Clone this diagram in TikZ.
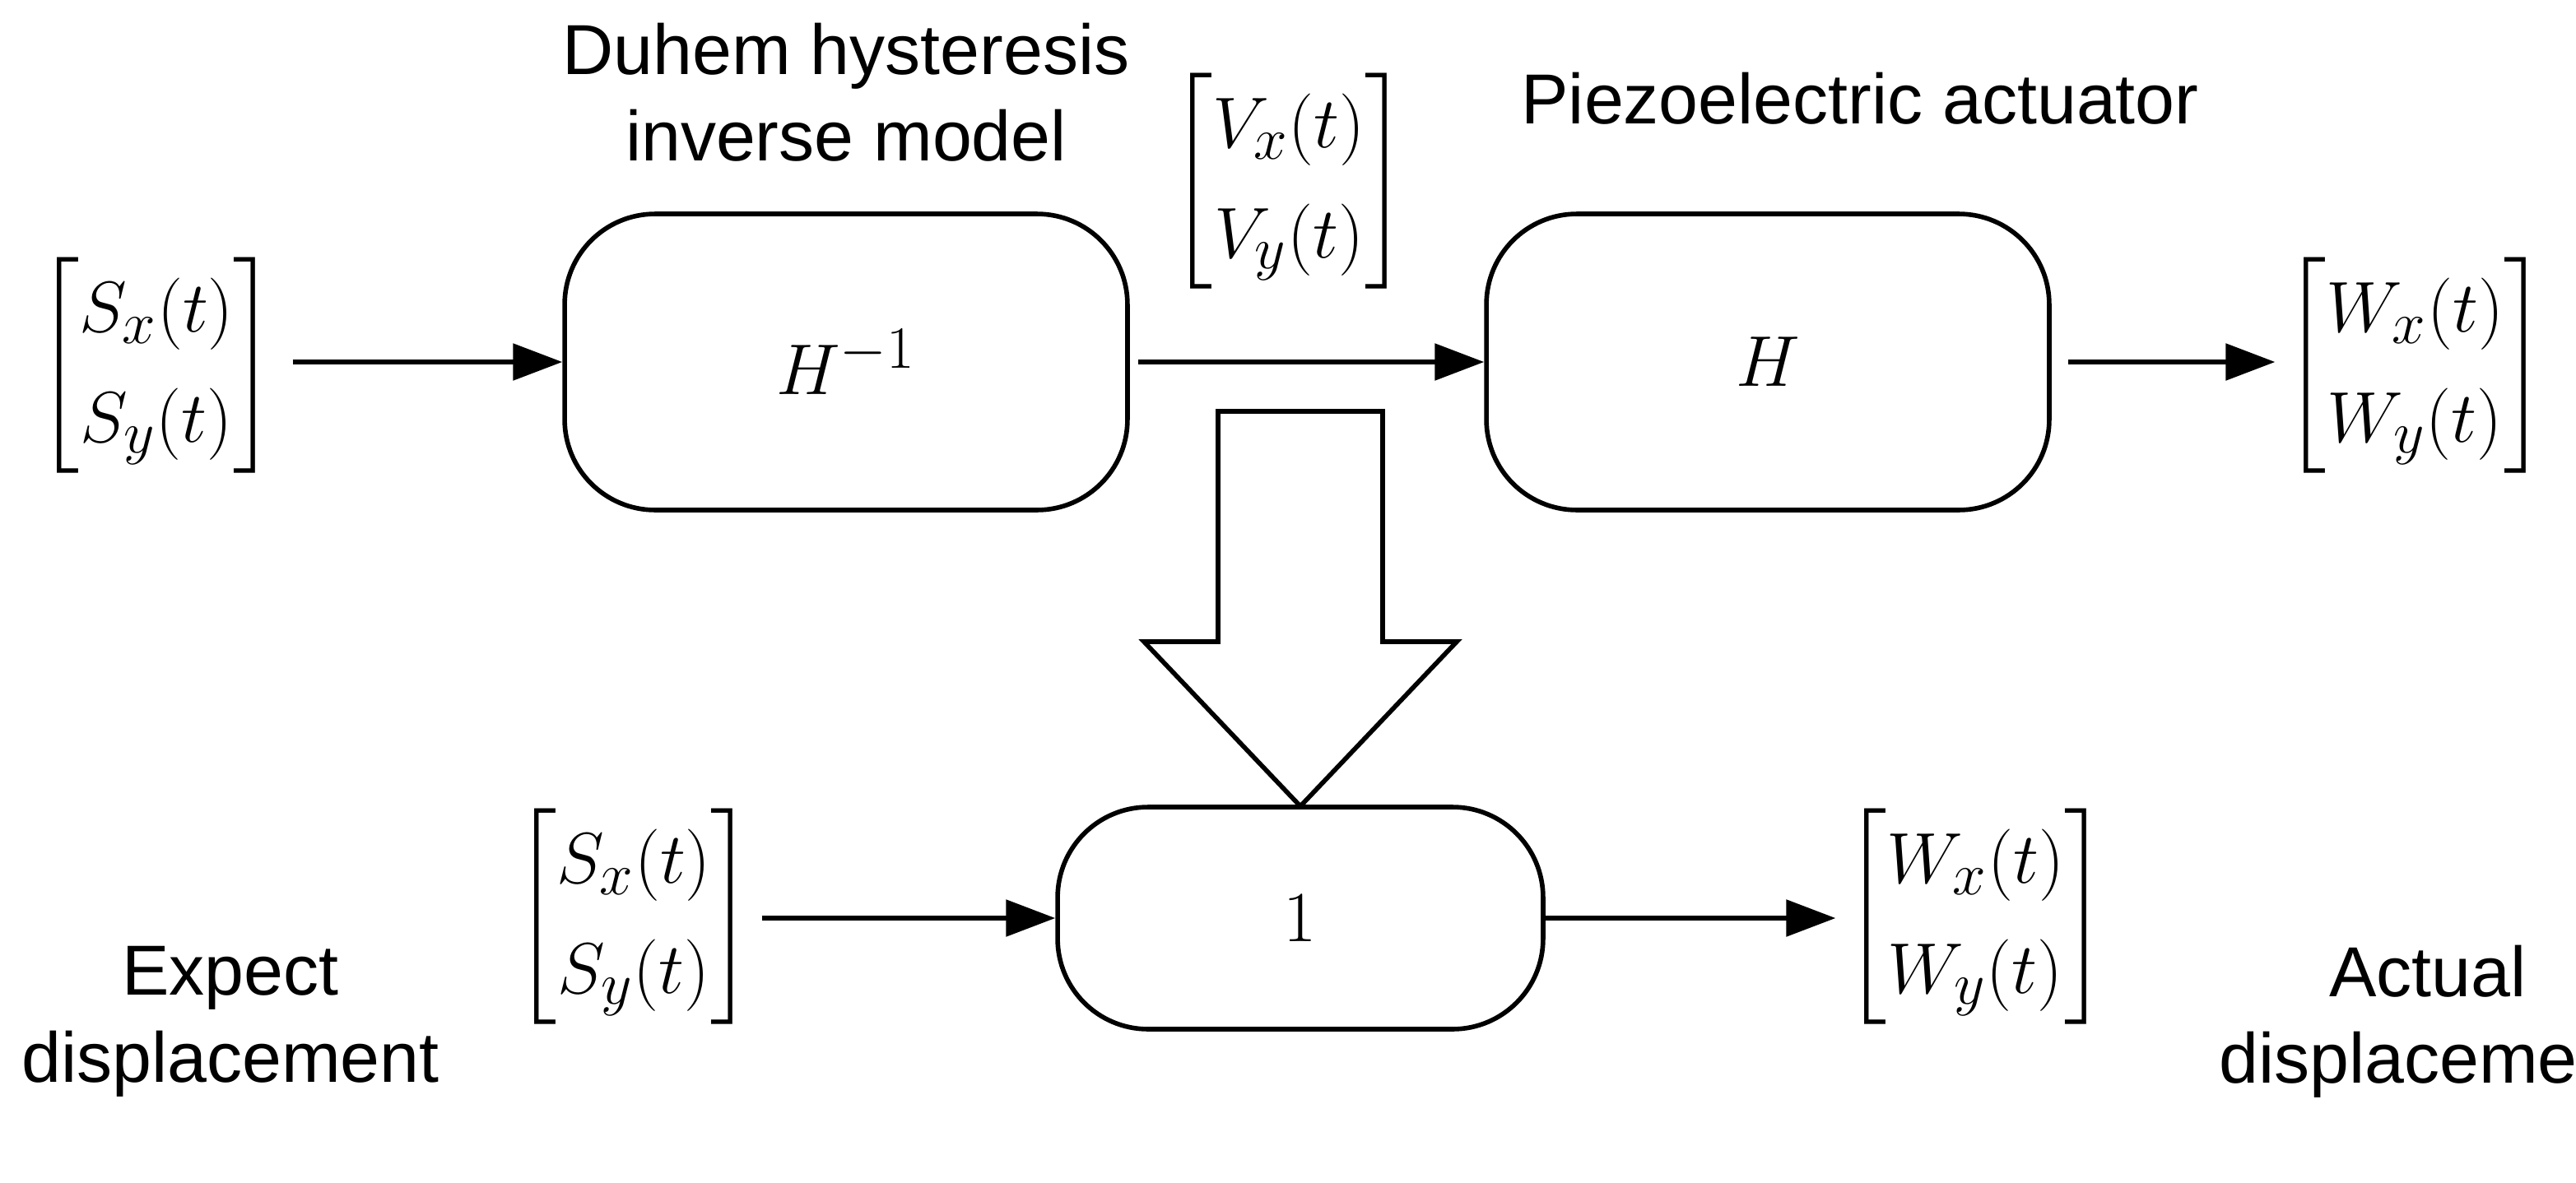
\documentclass[tikz,border=0pt]{standalone}
\usepackage{amsmath}
\usepackage{fontspec}
\setmainfont{Liberation Sans}
\usetikzlibrary{arrows.meta}
\begin{document}
\begin{tikzpicture}[x=0.02cm,y=-0.02cm,
  box/.style={draw,line width=1.6pt,rounded corners=1.1cm,inner sep=0pt},
  arr/.style={line width=1.6pt,-{Triangle[length=0.6cm,width=0.44cm]}},
  mat/.style={inner sep=0pt,font=\fontsize{31}{38}\selectfont},
  lab/.style={font=\fontsize{24.5}{30}\selectfont,align=center}]
\useasboundingbox (0,0) rectangle (1565,718.5);
\node[box,minimum width=6.84cm,minimum height=3.6cm] (hinv) at (514,220) {\fontsize{31}{38}\selectfont $H^{-1}$};
\node[box,minimum width=6.84cm,minimum height=3.6cm] (h) at (1074,220) {\fontsize{31}{38}\selectfont $H$};
\node[box,minimum width=5.9cm,minimum height=2.7cm] (one) at (790,558) {\fontsize{31}{38}\selectfont $1$};
\node[mat] (s1) at (95,222) {$\begin{bmatrix}S_x(t)\\ S_y(t)\end{bmatrix}$};
\node[mat] (v) at (783,110) {$\begin{bmatrix}V_x(t)\\ V_y(t)\end{bmatrix}$};
\node[mat] (w1) at (1467,222) {$\begin{bmatrix}W_x(t)\\ W_y(t)\end{bmatrix}$};
\node[mat] (s2) at (385,557) {$\begin{bmatrix}S_x(t)\\ S_y(t)\end{bmatrix}$};
\node[mat] (w2) at (1200,557) {$\begin{bmatrix}W_x(t)\\ W_y(t)\end{bmatrix}$};
\node[lab] (l1) at (514,56) {Duhem hysteresis\\inverse model};
\node[lab] (l2) at (1130,60) {Piezoelectric actuator};
\node[lab] (l3) at (140,621) {Expect\\displacement};
\node[lab] (l4) at (1475,621) {Actual\\displacement};
\draw[arr] ([xshift=0.2cm]s1.east |- hinv.west) -- (hinv.west);
\draw[arr] ([xshift=0.1cm]hinv.east) -- (h.west);
\draw[arr] ([xshift=0.2cm]h.east) -- ([xshift=-0.1cm]w1.west |- h.east);
\draw[arr] ([xshift=0.1cm]s2.east |- one.west) -- (one.west);
\draw[arr] (one.east) -- ([xshift=-0.1cm]w2.west |- one.east);
\draw[line width=1.6pt,line join=miter] (740,250) -- (840,250) -- (840,390) -- (885,390) -- (790,490) -- (695,390) -- (740,390) -- cycle;
\end{tikzpicture}
\end{document}
